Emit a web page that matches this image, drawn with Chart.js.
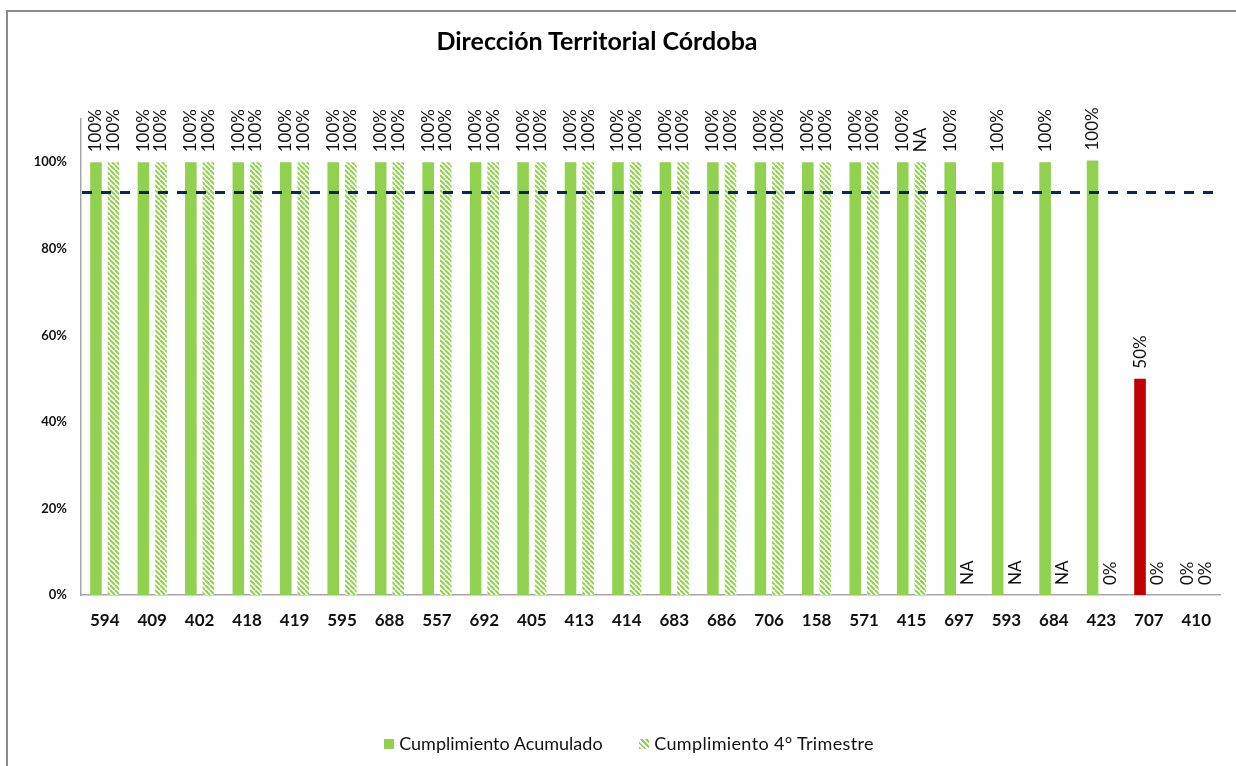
<!DOCTYPE html>
<html>
<head>
<meta charset="utf-8">
<script src="https://cdn.jsdelivr.net/npm/chart.js@4.4.1/dist/chart.umd.min.js"></script>
<style>
  html, body { margin: 0; padding: 0; background: #ffffff; }
  #wrap { position: relative; width: 1236px; height: 766px; overflow: hidden; background: #ffffff; }
  #frame { position: absolute; left: 6px; top: 10px; width: 1240px; height: 770px;
           border-top: 2px solid #8c8c8c; border-left: 2px solid #8c8c8c; pointer-events: none; }
  #chart { position: absolute; left: 0; top: 0; }
  #title { position: absolute; left: 0; top: 25px; width: 1194px; text-align: center;
           font-family: Lato, "Open Sans", sans-serif; font-weight: bold; font-size: 25px;
           line-height: 30px; color: #000; }
  #legend { position: absolute; left: 0; top: 731px; width: 1258px; text-align: center;
            font-family: Lato, "Open Sans", sans-serif; font-size: 18px; line-height: 24px; color: #111; }
  .item { display: inline-block; margin: 0 18px; }
  .item2 { letter-spacing: 0.35px; margin-left: 14px; }
  .box { display: inline-block; width: 10px; height: 10px; margin-right: 5px; vertical-align: 1px; }
  .solid { background: #92D050; }
  .hatch { background: repeating-linear-gradient(45deg, #92D050 0px, #92D050 2px, #ffffff 2px, #ffffff 3.6px); }
</style>
</head>
<body>
<div id="wrap">
  <canvas id="chart" width="1236" height="766"></canvas>
  <div id="title">Dirección Territorial Córdoba</div>
  <div id="legend">
    <span class="item"><span class="box solid"></span>Cumplimiento Acumulado</span>
    <span class="item item2"><span class="box hatch"></span>Cumplimiento 4° Trimestre</span>
  </div>
  <div id="frame"></div>
</div>
<script>
// ---- data ----
const categories = ['594','409','402','418','419','595','688','557','692','405','413','414',
                    '683','686','706','158','571','415','697','593','684','423','707','410'];
const acumulado = [1,1,1,1,1,1,1,1,1,1,1,1,1,1,1,1,1,1,1,1,1,1.004,0.5,0];
const acumuladoLabels = ['100%','100%','100%','100%','100%','100%','100%','100%','100%','100%','100%','100%',
                         '100%','100%','100%','100%','100%','100%','100%','100%','100%','100%','50%','0%'];
const trimestre = [1,1,1,1,1,1,1,1,1,1,1,1,1,1,1,1,1,1,null,null,null,0,0,0];
const trimestreLabels = ['100%','100%','100%','100%','100%','100%','100%','100%','100%','100%','100%','100%',
                         '100%','100%','100%','100%','100%','NA','NA','NA','NA','0%','0%','0%'];
const meta = 0.93;
const yTicks = [0, 0.2, 0.4, 0.6, 0.8, 1.0];

// ---- styles ----
const GREEN = '#92D050';
const RED = '#C00000';
const NAVY = '#0B2560';
const FONT = 'Lato, "Open Sans", sans-serif';

function hatchPattern() {
  const s = 5;
  const c = document.createElement('canvas');
  c.width = s; c.height = s;
  const g = c.getContext('2d');
  g.fillStyle = '#ffffff';
  g.fillRect(0, 0, s, s);
  g.strokeStyle = GREEN;
  g.lineWidth = 2;
  for (let k = -1; k <= 1; k++) {
    g.beginPath();
    g.moveTo(k * s, 0);
    g.lineTo(k * s + s, s);
    g.stroke();
  }
  return document.getElementById('chart').getContext('2d').createPattern(c, 'repeat');
}

const acumColors = categories.map(c => c === '707' ? RED : GREEN);

// target (meta) line across the plot, placed with the y scale
const metaLinePlugin = {
  id: 'metaLine',
  afterDatasetsDraw(chart) {
    const {ctx, chartArea} = chart;
    const y = chart.scales.y.getPixelForValue(meta);
    ctx.save();
    ctx.strokeStyle = NAVY;
    ctx.lineWidth = 3;
    ctx.setLineDash([10, 9]);
    ctx.beginPath();
    ctx.moveTo(chartArea.left + 1, y);
    ctx.lineTo(chartArea.right - 4, y);
    ctx.stroke();
    ctx.restore();
  }
};

const labelPlugin = {
  id: 'barLabels',
  afterDatasetsDraw(chart) {
    const ctx = chart.ctx;
    const yScale = chart.scales.y;
    const sets = [[0, acumulado, acumuladoLabels], [1, trimestre, trimestreLabels]];
    ctx.save();
    ctx.font = '17px ' + FONT;
    ctx.fillStyle = '#111111';
    ctx.textAlign = 'left';
    ctx.textBaseline = 'middle';
    sets.forEach(([di, vals, labs]) => {
      const m = chart.getDatasetMeta(di);
      m.data.forEach((el, i) => {
        const txt = labs[i];
        if (!txt) return;
        const v = vals[i] == null ? 0 : vals[i];
        const x = el.x;
        const y = yScale.getPixelForValue(v) - 10;
        ctx.save();
        ctx.translate(x, y);
        ctx.rotate(-Math.PI / 2);
        ctx.fillText(txt, 0, 0);
        ctx.restore();
      });
    });
    ctx.restore();
  }
};

new Chart(document.getElementById('chart'), {
  type: 'bar',
  data: {
    labels: categories,
    datasets: [
      {
        label: 'Cumplimiento Acumulado',
        data: acumulado,
        backgroundColor: acumColors,
        borderWidth: 0,
        categoryPercentage: 0.74,
        barPercentage: 0.66
      },
      {
        label: 'Cumplimiento 4° Trimestre',
        data: trimestre,
        backgroundColor: hatchPattern(),
        borderWidth: 0,
        categoryPercentage: 0.74,
        barPercentage: 0.66
      }
    ]
  },
  options: {
    responsive: false,
    animation: false,
    devicePixelRatio: 1,
    layout: { padding: { top: 119, left: 0, right: 16, bottom: 0 } },
    plugins: {
      legend: { display: false },
      title: { display: false },
      tooltip: { enabled: false }
    },
    scales: {
      x: {
        type: 'category',
        offset: true,
        grid: { display: false, drawTicks: false },
        border: { display: true, color: '#a6a6a6', width: 1.5 },
        ticks: { color: '#111', font: { family: FONT, size: 17, weight: 'bold' }, padding: 15, maxRotation: 0, autoSkip: false },
        afterFit(scale) { scale.height = 171; }
      },
      y: {
        min: 0,
        max: 1.1,
        grid: { display: false, drawTicks: false },
        border: { display: true, color: '#a6a6a6', width: 1.5 },
        afterBuildTicks(scale) { scale.ticks = yTicks.map(v => ({ value: v })); },
        ticks: {
          color: '#111',
          font: { family: FONT, size: 13, weight: 'bold' },
          padding: 14,
          callback: (v) => Math.round(v * 100) + '%'
        },
        afterFit(scale) { scale.width = 81; }
      }
    }
  },
  plugins: [labelPlugin, metaLinePlugin]
});
</script>
</body>
</html>
